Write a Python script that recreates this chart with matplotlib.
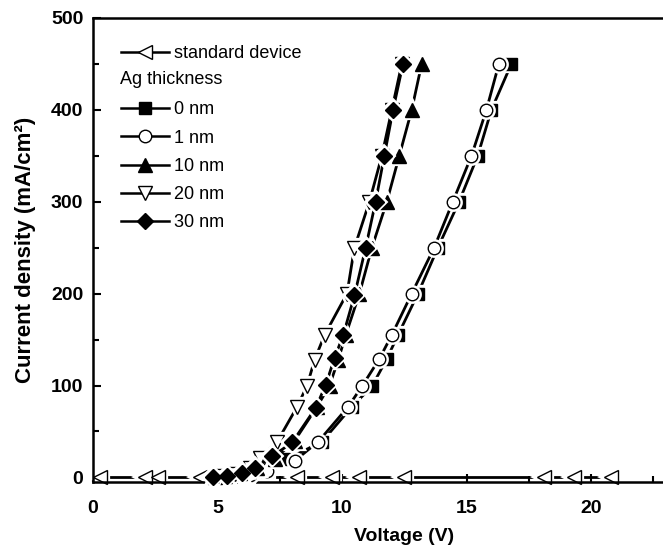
import matplotlib
matplotlib.use("Agg")
import matplotlib.pyplot as plt
from matplotlib.lines import Line2D
from matplotlib.ticker import MultipleLocator

plt.rcParams['font.family'] = ['Liberation Sans', 'DejaVu Sans']

# ---- data ----
std_v = [0.3, 2.1, 2.6, 4.3, 8.2, 9.6, 10.7, 12.5, 18.1, 19.3, 20.8]
std_j = [0, 0, 0, 0, 0, 0, 0, 0, 0, 0, 0]

nm0_v = [5.3, 6.2, 7.0, 7.8, 9.2, 10.4, 11.2, 11.8, 12.25, 13.05, 13.85, 14.7, 15.45, 16.0, 16.8]
nm0_j = [1, 3, 7, 20, 39, 77, 99, 129, 155, 200, 250, 300, 350, 400, 450]

nm1_v = [5.5, 6.3, 7.0, 8.1, 9.05, 10.25, 10.8, 11.5, 12.0, 12.8, 13.7, 14.45, 15.2, 15.8, 16.3]
nm1_j = [1, 3, 7, 18, 39, 77, 99, 129, 155, 200, 250, 300, 350, 400, 450]

nm10_v = [4.9, 5.3, 5.9, 6.6, 7.3, 8.1, 9.0, 9.5, 9.85, 10.15, 10.7, 11.2, 11.8, 12.3, 12.8, 13.2]
nm10_j = [0.5, 2, 5, 10, 20, 40, 77, 100, 128, 155, 200, 250, 300, 350, 400, 450]

nm20_v = [5.0, 5.7, 6.3, 6.7, 7.4, 8.2, 8.6, 8.9, 9.3, 10.2, 10.5, 11.1, 11.6, 12.0, 12.4]
nm20_j = [1, 4, 10, 21, 39, 77, 100, 128, 155, 200, 250, 300, 350, 400, 450]

nm30_v = [4.8, 5.4, 6.0, 6.5, 7.2, 8.0, 8.95, 9.35, 9.7, 10.05, 10.5, 10.95, 11.35, 11.7, 12.05, 12.45]
nm30_j = [0.5, 2, 5, 10, 23, 38, 76, 101, 130, 155, 198, 250, 300, 350, 400, 450]

x_ticks = [0, 5, 10, 15, 20]
y_ticks = [0, 100, 200, 300, 400, 500]

fig = plt.figure(figsize=(6.63, 5.51), dpi=100)
ax = fig.add_axes([93 / 663, 69 / 551, 622.5 / 663, 464 / 551])

series = [
    (std_v, std_j, '<', 'white', 10, 'standard device'),
    (nm0_v, nm0_j, 's', 'black', 8, '0 nm'),
    (nm1_v, nm1_j, 'o', 'white', 9, '1 nm'),
    (nm10_v, nm10_j, '^', 'black', 10, '10 nm'),
    (nm20_v, nm20_j, 'v', 'white', 10, '20 nm'),
    (nm30_v, nm30_j, 'D', 'black', 8, '30 nm'),
]

handles = []
z = 2
for v, j, mk, fc, ms, lab in series:
    ax.plot(v, j, '-', color='black', lw=2.0, zorder=z, clip_on=False)
    ax.plot(v, j, linestyle='none', marker=mk, ms=ms, mfc='white', mec='white',
            mew=4.5, zorder=z + 0.1, clip_on=False)
    ax.plot(v, j, linestyle='none', marker=mk, ms=ms, mfc=fc, mec='black',
            mew=1.0, zorder=z + 0.2, clip_on=False)
    handles.append(Line2D([], [], color='black', lw=1.8, marker=mk, ms=ms,
                          mfc=fc, mec='black', mew=1.0, label=lab))
    z += 1

blank = Line2D([], [], color='none', label=' ')
leg_handles = [handles[0], blank] + handles[1:]
leg = ax.legend(handles=leg_handles, loc='upper left', frameon=False,
                bbox_to_anchor=(0.028, 0.965), fontsize=13, handlelength=2.66,
                handletextpad=0.28, labelspacing=0.62, borderaxespad=0.2)
fig.text(120 / 663, 1 - 80 / 551, 'Ag thickness', fontsize=13, va='center', ha='left')

ax.set_xlim(0, 25)
ax.set_ylim(-5, 500)
ax.set_xticks(x_ticks)
ax.set_yticks(y_ticks)
ax.xaxis.set_minor_locator(MultipleLocator(2.5))
ax.yaxis.set_minor_locator(MultipleLocator(50))
ax.tick_params(which='major', direction='in', length=6, width=1.5, labelsize=14)
ax.tick_params(axis='x', which='major', pad=13)
ax.tick_params(axis='y', which='major', pad=7)
ax.tick_params(which='minor', direction='in', length=4, width=1.5)
ax.tick_params(top=False, right=False, which='both')
for lab in ax.get_xticklabels() + ax.get_yticklabels():
    lab.set_fontweight('bold')
for s in ax.spines.values():
    s.set_linewidth(1.8)

ax.set_xlabel('Voltage (V)', fontsize=14, fontweight='bold', labelpad=8)
ax.set_ylabel('Current density (mA/cm²)', fontsize=16, fontweight='bold', labelpad=11)

fig.savefig('out.png', dpi=100)
